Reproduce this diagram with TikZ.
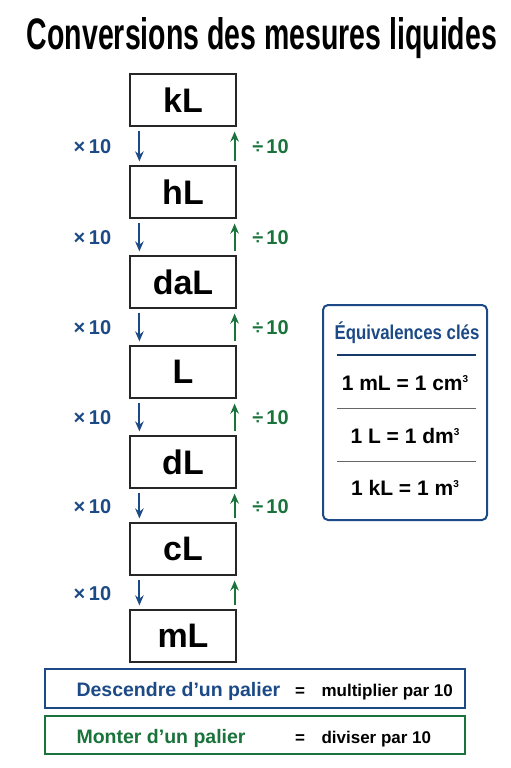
\documentclass[tikz,border=0pt]{standalone}
\usepackage{fontspec}
\setmainfont{Liberation Sans}
\usetikzlibrary{arrows.meta,calc}
\definecolor{dblue}{HTML}{1C4A86}
\definecolor{dgreen}{HTML}{19733B}
\newcommand\cube{\raisebox{0.75ex}{\fontsize{10}{10}\selectfont 3}}
\begin{document}
\begin{tikzpicture}[x=1pt,y=-1pt,
  unit/.style={draw=black!85, line width=1.2pt, fill=white, minimum width=106pt, minimum height=52pt, inner sep=0pt, font=\fontsize{34}{34}\selectfont\bfseries},
  downarr/.style={dblue, line width=2pt, -{Stealth[length=10pt,width=8.5pt]}},
  uparr/.style={dgreen, line width=2pt, -{Stealth[length=10pt,width=8.5pt]}},
  mul/.style={text=dblue, font=\fontsize{20}{20}\selectfont\bfseries},
  divl/.style={text=dgreen, font=\fontsize{20}{20}\selectfont\bfseries},
  eqitem/.style={font=\fontsize{21}{21}\selectfont\bfseries},
  sep/.style={line width=1pt, black!60},
  ruleb/.style={font=\fontsize{19.5}{19.5}\selectfont\bfseries, anchor=base west},
  rulet/.style={font=\fontsize{17}{17}\selectfont\bfseries, anchor=base west}]
\useasboundingbox[fill=white] (0,0) rectangle (511,768);
% title
\node[anchor=base, inner sep=0pt] (title) at (262,50) {\resizebox{470pt}{32pt}{\bfseries Conversions des mesures liquides}};
% units
\foreach \n/\y in {kL/100,hL/192,daL/282,L/372,dL/462,cL/549,mL/636}
  \node[unit] (\n) at (183,\y) {\n};
% arrows and labels
\foreach \a/\b in {kL/hL,hL/daL,daL/L,L/dL,dL/cL,cL/mL} {
  \draw[downarr] ($(\a.south west)+(10,4)$) -- ($(\b.north west)+(10,-4)$);
  \draw[uparr] ($(\b.north east)+(-2,-4)$) -- ($(\a.south east)+(-2,5)$);
  \node[mul] (times-\a) at ($(\a.south west)!0.5!(\b.north west)+(-37,1)$) {×\hspace{0.18em}10};
}
\foreach \a/\b in {kL/hL,hL/daL,daL/L,L/dL,dL/cL}
  \node[divl] (div-\a) at ($(\a.south east)!0.5!(\b.north east)+(34,1)$) {÷\hspace{0.15em}10};
% equivalences
\node[draw=dblue, line width=2pt, rounded corners=5pt, minimum width=164pt, minimum height=215pt] (eq) at (405,412.5) {};
\node[text=dblue, font=\fontsize{20}{20}\selectfont\bfseries] (eqt) at (407,333) {\scalebox{0.84}[1]{Équivalences clés}};
\draw[line width=1.2pt, dblue!80!black] (337,355) -- (476,355);
\node[eqitem] (e1) at (405,383) {1 mL = 1 cm\cube};
\draw[sep] (337,408) -- (476,408);
\node[eqitem] (e2) at (405,436) {1 L = 1 dm\cube};
\draw[sep] (337,461) -- (476,461);
\node[eqitem] (e3) at (405,488) {1 kL = 1 m\cube};
% rules
\node[draw=dblue, line width=1.3pt, minimum width=420pt, minimum height=39pt] (rb) at (255,688.5) {};
\node[draw=dgreen, line width=1.3pt, minimum width=420pt, minimum height=38pt] (rg) at (255,735) {};
\node[ruleb, text=dblue] (rb1) at (73,696) {Descendre d’un palier};
\node[rulet, anchor=base] (rb2) at (300,696) {=};
\node[rulet] (rb3) at (318,696) {multiplier par 10};
\node[ruleb, text=dgreen] (rg1) at (73,743) {Monter d’un palier};
\node[rulet, anchor=base] (rg2) at (300,743) {=};
\node[rulet] (rg3) at (318,743) {diviser par 10};
\end{tikzpicture}
\end{document}
